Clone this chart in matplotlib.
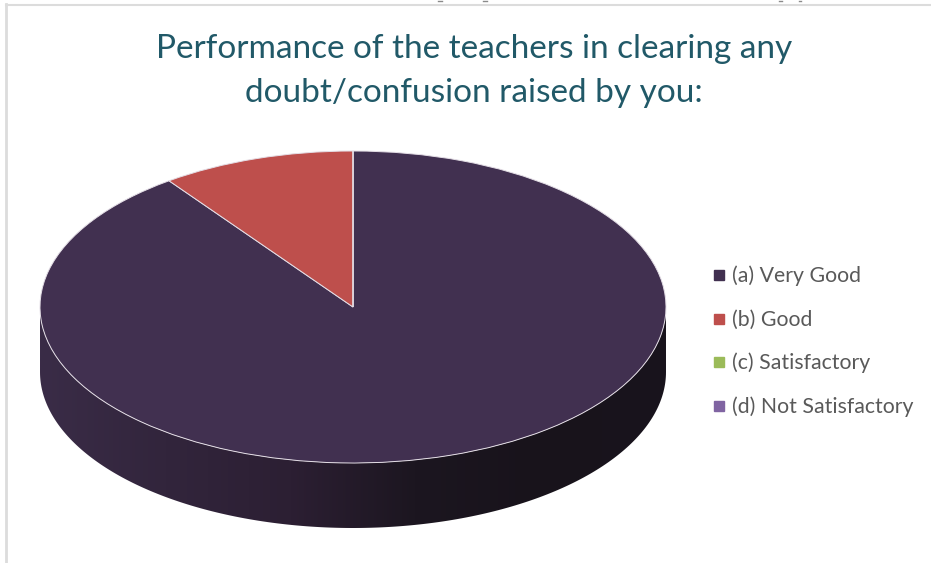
import matplotlib

matplotlib.use("Agg")
import matplotlib.pyplot as plt
import numpy as np
from matplotlib.colors import LinearSegmentedColormap
from matplotlib.lines import Line2D
from matplotlib.patches import Polygon

plt.rcParams["font.family"] = ["Lato", "DejaVu Sans"]

W, H = 931, 563

title = "Performance of the teachers in clearing any\ndoubt/confusion raised by you:"
categories = ["(a) Very Good", "(b) Good", "(c) Satisfactory", "(d) Not Satisfactory"]
values = [90, 10, 0, 0]
colors = ["#413050", "#BE4F4C", "#9BBB59", "#8064A2"]
side_colors = ["#3A2C47", "#32253C", "#2C1F33", "#1C1620", "#18131B", "#19141D"]

# pie geometry in pixels, tilted so the circle is an ellipse
cx, cy, rx, ry, depth = 353, 307, 313, 156, 65

fig = plt.figure(figsize=(W / 100, H / 100), dpi=100, facecolor="white")

# page border left over from the screenshot
fig.add_artist(Line2D([6 / W, 6 / W], [0, 1 - 4 / H], color="#DCDCDC", lw=2))
fig.add_artist(Line2D([6 / W, 1], [1 - 4.5 / H, 1 - 4.5 / H], color="#DCDCDC", lw=1.5))
# cut off descenders of the text above the crop
for x0, x1 in [(438, 442), (483, 487), (779, 782), (799, 801)]:
    fig.add_artist(Line2D([x0 / W, x1 / W], [1 - 0.5 / H, 1 - 0.5 / H], color="#8A8A8A", lw=1))

d = depth / ry
ax = fig.add_axes([(cx - rx) / W, 1 - (cy + ry + depth) / H, 2 * rx / W, (2 * ry + depth) / H])
ax.axis("off")

# side wall with a left to right shading
t = np.linspace(np.pi, 2 * np.pi, 200)
wall = np.r_[np.c_[np.cos(t), np.sin(t) - d], np.c_[np.cos(t[::-1]), np.sin(t[::-1])]]
clip = Polygon(wall, closed=True, transform=ax.transData, fc="none", ec="none")
ax.add_patch(clip)
cmap = LinearSegmentedColormap.from_list("side", side_colors)
img = ax.imshow(
    np.linspace(0, 1, 256)[None, :],
    cmap=cmap,
    extent=(-1, 1, -1 - d, 1),
    aspect="auto",
    zorder=1,
)
img.set_clip_path(clip)

wedges, _ = ax.pie(
    values,
    colors=colors,
    startangle=90,
    counterclock=False,
    wedgeprops={"edgecolor": "#E4DEE6", "linewidth": 0.7},
)
for wedge in wedges:
    wedge.set_zorder(2)
ax.set_aspect("auto")
ax.set_xlim(-1, 1)
ax.set_ylim(-1 - d, 1)

fig.text(474 / W, 1 - 71 / H, title, ha="center", va="center", fontsize=24, color="#215968", linespacing=1.6)

legend_y = [275, 319, 362, 406]
for name, color, y in zip(categories, colors, legend_y):
    fig.add_artist(
        Line2D([719 / W], [1 - y / H], marker="s", ms=6.5, mfc=color, mec=color, ls="none")
    )
    fig.text(732 / W, 1 - (y + 0.5) / H, name, ha="left", va="center", fontsize=15.3, color="#595959")

fig.savefig("out.png", dpi=100)
plt.close(fig)
